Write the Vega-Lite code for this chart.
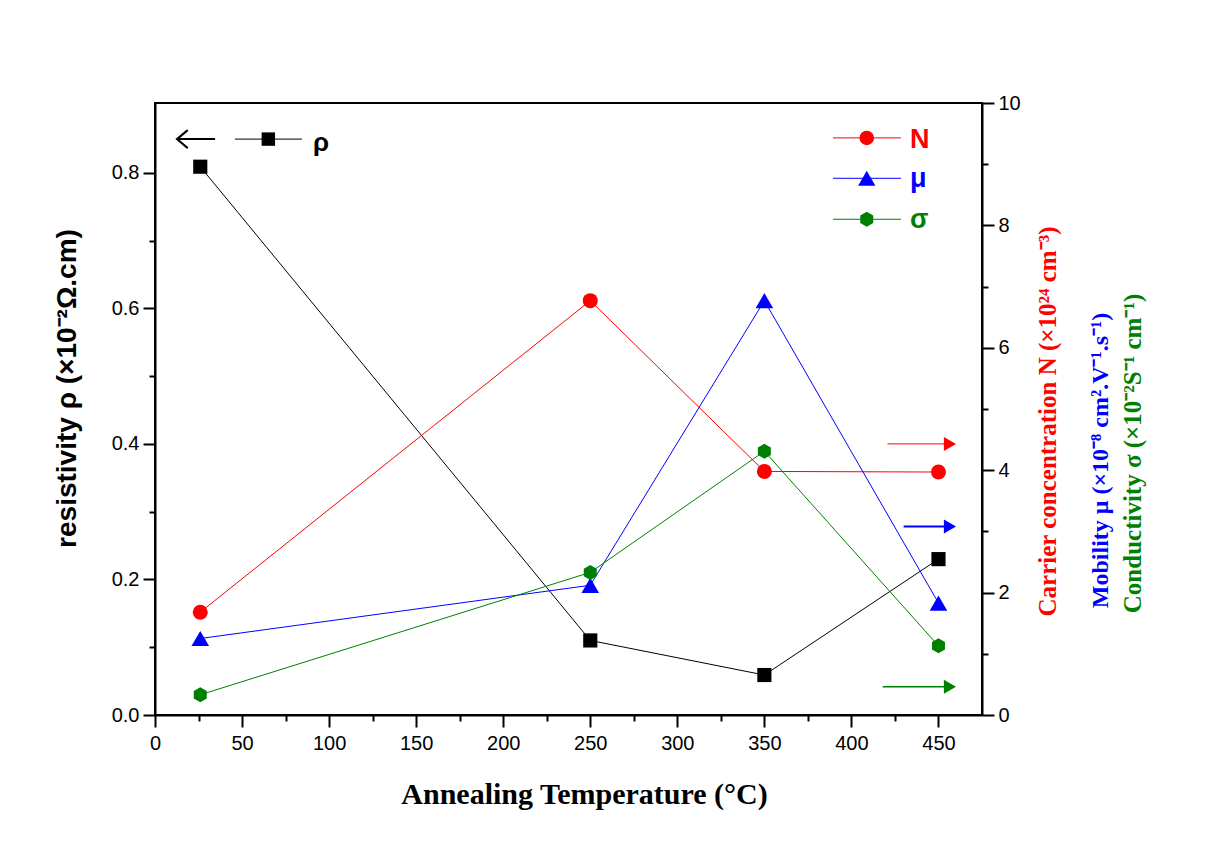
{
  "$schema": "https://vega.github.io/schema/vega-lite/v6.json",
  "width": 827,
  "height": 612,
  "autosize": {"type": "none"},
  "padding": {"left": 155, "top": 103, "right": 231, "bottom": 131},
  "background": "white",
  "config": {
    "view": {"stroke": "black", "strokeWidth": 2},
    "axis": {
      "grid": false,
      "domainColor": "black",
      "domainWidth": 2,
      "tickColor": "black",
      "tickWidth": 2,
      "labelFont": "Liberation Sans",
      "labelFontSize": 20,
      "labelColor": "black",
      "labelFlush": false,
      "labelOverlap": false
    },
    "line": {"strokeWidth": 1}
  },
  "layer": [
    {
      "data": {"values": [
        {"series": "ρ", "T": 26, "v": 0.809},
        {"series": "ρ", "T": 250, "v": 0.110},
        {"series": "ρ", "T": 350, "v": 0.059},
        {"series": "ρ", "T": 450, "v": 0.230}
      ]},
      "encoding": {
        "x": {
          "field": "T", "type": "quantitative",
          "scale": {"domain": [0, 475], "nice": false, "zero": false},
          "axis": {
            "orient": "bottom",
            "values": [0, 25, 50, 75, 100, 125, 150, 175, 200, 225, 250, 275, 300, 325, 350, 375, 400, 425, 450],
            "labelExpr": "datum.value % 50 === 0 ? datum.label : ''",
            "tickSize": {"condition": {"test": "datum.value % 50 === 0", "value": 12}, "value": 6},
            "labelPadding": 6,
            "title": "Annealing Temperature (°C)",
            "titleFont": "Liberation Serif",
            "titleFontSize": 30,
            "titleFontWeight": "bold",
            "titleColor": "black",
            "titleX": 429,
            "titleY": 88,
            "titleAlign": "center",
            "titleBaseline": "alphabetic"
          }
        },
        "y": {
          "field": "v", "type": "quantitative",
          "scale": {"domain": [0, 0.903], "nice": false},
          "axis": {
            "orient": "left",
            "values": [0, 0.1, 0.2, 0.3, 0.4, 0.5, 0.6, 0.7, 0.8],
            "labelExpr": "round(datum.value * 10) % 2 === 0 ? format(datum.value, '.1f') : ''",
            "tickSize": {"condition": {"test": "round(datum.value * 10) % 2 === 0", "value": 12}, "value": 6},
            "labelPadding": 4,
            "title": "resistivity ρ (×10⁻²Ω.cm)",
            "titleFont": "Liberation Sans",
            "titleFontSize": 28,
            "titleFontWeight": "bold",
            "titleColor": "black",
            "titleAngle": 270,
            "titleX": -80,
            "titleY": 285,
            "titleAlign": "center",
            "titleBaseline": "alphabetic"
          }
        },
        "color": {
          "field": "series", "type": "nominal",
          "scale": {"domain": ["ρ"], "range": ["black"]},
          "legend": null
        }
      },
      "layer": [
        {"mark": {"type": "line", "strokeWidth": 1}},
        {"mark": {"type": "point", "shape": "square", "filled": true, "size": 200, "opacity": 1}}
      ]
    },
    {
      "data": {"values": [
        {"series": "N", "T": 26, "v": 1.68},
        {"series": "N", "T": 250, "v": 6.77},
        {"series": "N", "T": 350, "v": 3.98},
        {"series": "N", "T": 450, "v": 3.97},
        {"series": "μ", "T": 26, "v": 1.25},
        {"series": "μ", "T": 250, "v": 2.12},
        {"series": "μ", "T": 350, "v": 6.77},
        {"series": "μ", "T": 450, "v": 1.83},
        {"series": "σ", "T": 26, "v": 0.33},
        {"series": "σ", "T": 250, "v": 2.33},
        {"series": "σ", "T": 350, "v": 4.31},
        {"series": "σ", "T": 450, "v": 1.13}
      ]},
      "encoding": {
        "x": {"field": "T", "type": "quantitative"},
        "y": {
          "field": "v", "type": "quantitative",
          "scale": {"domain": [0, 10], "nice": false},
          "axis": {
            "orient": "right",
            "values": [0, 1, 2, 3, 4, 5, 6, 7, 8, 9, 10],
            "labelExpr": "datum.value % 2 === 0 ? datum.label : ''",
            "tickSize": {"condition": {"test": "datum.value % 2 === 0", "value": 12}, "value": 6},
            "labelPadding": 4,
            "title": "Carrier concentration N (×10²⁴ cm⁻³)",
            "titleFont": "Liberation Serif",
            "titleFontSize": 25,
            "titleFontWeight": "bold",
            "titleColor": "#ff0000",
            "titleAngle": 270,
            "titleX": 73,
            "titleY": 318,
            "titleAlign": "center",
            "titleBaseline": "alphabetic"
          }
        },
        "color": {
          "field": "series", "type": "nominal",
          "scale": {"domain": ["N", "μ", "σ"], "range": ["#ff0000", "#0000ff", "#008000"]},
          "legend": null
        }
      },
      "layer": [
        {"mark": {"type": "line", "strokeWidth": 1}},
        {
          "transform": [{"filter": "datum.series === 'N'"}],
          "mark": {"type": "point", "shape": "circle", "filled": true, "size": 225, "opacity": 1}
        },
        {
          "transform": [{"filter": "datum.series === 'μ'"}],
          "mark": {"type": "point", "shape": "triangle-up", "filled": true, "size": 310, "opacity": 1}
        },
        {
          "transform": [{"filter": "datum.series === 'σ'"}],
          "mark": {"type": "point", "shape": "M0,-1L0.866,-0.5L0.866,0.5L0,1L-0.866,0.5L-0.866,-0.5Z", "filled": true, "size": 225, "opacity": 1}
        }
      ]
    },
    {
      "data": {"values": [{}]},
      "layer": [
        {
          "mark": {"type": "rule", "color": "#ff0000", "strokeWidth": 1},
          "encoding": {
            "x": {"datum": 420.7, "type": "quantitative"},
            "x2": {"datum": 456},
            "y": {"datum": 4.43, "type": "quantitative", "scale": {"domain": [0, 10], "nice": false}, "axis": null}
          }
        },
        {
          "mark": {"type": "point", "shape": "triangle-right", "filled": true, "color": "#ff0000", "size": 196, "opacity": 1},
          "encoding": {
            "x": {"datum": 456.6, "type": "quantitative"},
            "y": {"datum": 4.43, "type": "quantitative"}
          }
        }
      ]
    },
    {
      "data": {"values": [{}]},
      "layer": [
        {
          "mark": {"type": "rule", "color": "#0000ff", "strokeWidth": 2},
          "encoding": {
            "x": {"datum": 430, "type": "quantitative"},
            "x2": {"datum": 456},
            "y": {
              "datum": 3.08, "type": "quantitative",
              "scale": {"domain": [0, 10], "nice": false},
              "axis": {
                "orient": "right",
                "labels": false,
                "ticks": false,
                "domain": false,
                "title": "Mobility μ (×10⁻⁸ cm².V⁻¹.s⁻¹)",
                "titleFont": "Liberation Serif",
                "titleFontSize": 24,
                "titleFontWeight": "bold",
                "titleColor": "#0000ff",
                "titleAngle": 270,
                "titleX": 125,
                "titleY": 357,
                "titleAlign": "center",
                "titleBaseline": "alphabetic"
              }
            }
          }
        },
        {
          "mark": {"type": "point", "shape": "triangle-right", "filled": true, "color": "#0000ff", "size": 196, "opacity": 1},
          "encoding": {
            "x": {"datum": 456.6, "type": "quantitative"},
            "y": {"datum": 3.08, "type": "quantitative"}
          }
        }
      ]
    },
    {
      "data": {"values": [{}]},
      "layer": [
        {
          "mark": {"type": "rule", "color": "#008000", "strokeWidth": 1.5},
          "encoding": {
            "x": {"datum": 418, "type": "quantitative"},
            "x2": {"datum": 456},
            "y": {
              "datum": 0.46, "type": "quantitative",
              "scale": {"domain": [0, 10], "nice": false},
              "axis": {
                "orient": "right",
                "labels": false,
                "ticks": false,
                "domain": false,
                "title": "Conductivity σ (×10⁻²S⁻¹ cm⁻¹)",
                "titleFont": "Liberation Serif",
                "titleFontSize": 25,
                "titleFontWeight": "bold",
                "titleColor": "#008000",
                "titleAngle": 270,
                "titleX": 158,
                "titleY": 350,
                "titleAlign": "center",
                "titleBaseline": "alphabetic"
              }
            }
          }
        },
        {
          "mark": {"type": "point", "shape": "triangle-right", "filled": true, "color": "#008000", "size": 196, "opacity": 1},
          "encoding": {
            "x": {"datum": 456.6, "type": "quantitative"},
            "y": {"datum": 0.46, "type": "quantitative"}
          }
        }
      ]
    },
    {
      "data": {"values": [{}]},
      "layer": [
        {
          "mark": {"type": "rule", "color": "black", "strokeWidth": 2},
          "encoding": {
            "x": {"datum": 12.8, "type": "quantitative"},
            "x2": {"datum": 34.5},
            "y": {"datum": 9.41, "type": "quantitative", "scale": {"domain": [0, 10], "nice": false}, "axis": null}
          }
        },
        {
          "mark": {"type": "point", "shape": "M0.6,-1L-0.6,0L0.6,1", "filled": false, "color": "black", "strokeWidth": 2, "size": 324, "opacity": 1},
          "encoding": {
            "x": {"datum": 15.7, "type": "quantitative"},
            "y": {"datum": 9.41, "type": "quantitative"}
          }
        },
        {
          "mark": {"type": "rule", "color": "black", "strokeWidth": 1},
          "encoding": {
            "x": {"datum": 45.9, "type": "quantitative"},
            "x2": {"datum": 84.4},
            "y": {"datum": 9.41, "type": "quantitative"}
          }
        },
        {
          "mark": {"type": "point", "shape": "square", "filled": true, "color": "black", "size": 180, "opacity": 1},
          "encoding": {
            "x": {"datum": 65.1, "type": "quantitative"},
            "y": {"datum": 9.41, "type": "quantitative"}
          }
        },
        {
          "mark": {"type": "text", "text": "ρ", "align": "left", "baseline": "alphabetic", "font": "Liberation Sans", "fontSize": 26, "fontWeight": "bold", "color": "black"},
          "encoding": {
            "x": {"datum": 90.8, "type": "quantitative"},
            "y": {"datum": 9.22, "type": "quantitative"}
          }
        },
        {
          "mark": {"type": "rule", "color": "#ff0000", "strokeWidth": 1},
          "encoding": {
            "x": {"datum": 389.4, "type": "quantitative"},
            "x2": {"datum": 428.5},
            "y": {"datum": 9.43, "type": "quantitative"}
          }
        },
        {
          "mark": {"type": "point", "shape": "circle", "filled": true, "color": "#ff0000", "size": 210, "opacity": 1},
          "encoding": {
            "x": {"datum": 408.8, "type": "quantitative"},
            "y": {"datum": 9.43, "type": "quantitative"}
          }
        },
        {
          "mark": {"type": "text", "text": "N", "align": "left", "baseline": "alphabetic", "font": "Liberation Sans", "fontSize": 27, "fontWeight": "bold", "color": "#ff0000"},
          "encoding": {
            "x": {"datum": 433.7, "type": "quantitative"},
            "y": {"datum": 9.26, "type": "quantitative"}
          }
        },
        {
          "mark": {"type": "rule", "color": "#0000ff", "strokeWidth": 1},
          "encoding": {
            "x": {"datum": 389.4, "type": "quantitative"},
            "x2": {"datum": 428.5},
            "y": {"datum": 8.77, "type": "quantitative"}
          }
        },
        {
          "mark": {"type": "point", "shape": "triangle-up", "filled": true, "color": "#0000ff", "size": 300, "opacity": 1},
          "encoding": {
            "x": {"datum": 408.8, "type": "quantitative"},
            "y": {"datum": 8.77, "type": "quantitative"}
          }
        },
        {
          "mark": {"type": "text", "text": "μ", "align": "left", "baseline": "alphabetic", "font": "Liberation Sans", "fontSize": 27, "fontWeight": "bold", "color": "#0000ff"},
          "encoding": {
            "x": {"datum": 433.7, "type": "quantitative"},
            "y": {"datum": 8.63, "type": "quantitative"}
          }
        },
        {
          "mark": {"type": "rule", "color": "#008000", "strokeWidth": 1},
          "encoding": {
            "x": {"datum": 389.4, "type": "quantitative"},
            "x2": {"datum": 428.5},
            "y": {"datum": 8.10, "type": "quantitative"}
          }
        },
        {
          "mark": {"type": "point", "shape": "M0,-1L0.866,-0.5L0.866,0.5L0,1L-0.866,0.5L-0.866,-0.5Z", "filled": true, "color": "#008000", "size": 225, "opacity": 1},
          "encoding": {
            "x": {"datum": 408.8, "type": "quantitative"},
            "y": {"datum": 8.10, "type": "quantitative"}
          }
        },
        {
          "mark": {"type": "text", "text": "σ", "align": "left", "baseline": "alphabetic", "font": "Liberation Sans", "fontSize": 27, "fontWeight": "bold", "color": "#008000"},
          "encoding": {
            "x": {"datum": 433.7, "type": "quantitative"},
            "y": {"datum": 7.96, "type": "quantitative"}
          }
        }
      ]
    }
  ],
  "resolve": {
    "scale": {"y": "independent", "color": "independent"},
    "axis": {"y": "independent"}
  }
}
